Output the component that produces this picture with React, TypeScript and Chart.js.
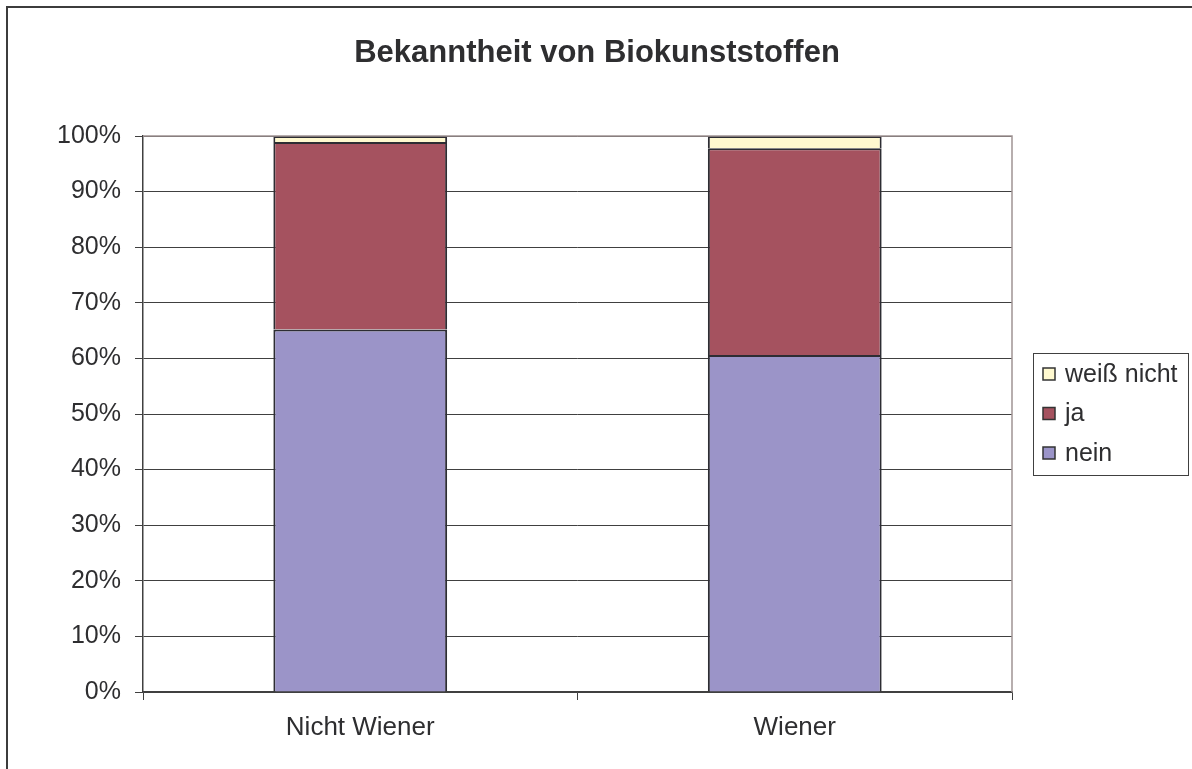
import React, { useEffect, useRef } from "react";
import { Chart, registerables } from "chart.js";

Chart.register(...registerables);

const categories = ["Nicht Wiener", "Wiener"];
const neinValues = [65.2, 60.6];
const jaValues = [33.7, 37.2];
const weissNichtValues = [1.1, 2.2];
const yTicks = [0, 10, 20, 30, 40, 50, 60, 70, 80, 90, 100];
const titleText = "Bekanntheit von Biokunststoffen";

const FONT = "'Liberation Sans', Arial, sans-serif";

const framePlugin = {
  id: "frameAndExtras",
  beforeDraw(chart: any) {
    const ctx = chart.ctx;
    ctx.save();
    ctx.fillStyle = "#ffffff";
    ctx.fillRect(0, 0, chart.width, chart.height);
    ctx.strokeStyle = "#3c3c3c";
    ctx.lineWidth = 2;
    ctx.strokeRect(7, 7, chart.width + 20, chart.height + 20);
    ctx.restore();
  },
  afterDatasetsDraw(chart: any) {
    const ctx = chart.ctx;
    const a = chart.chartArea;
    ctx.save();
    ctx.strokeStyle = "#a09494";
    ctx.lineWidth = 1.5;
    ctx.beginPath();
    ctx.moveTo(a.left, a.top);
    ctx.lineTo(a.right, a.top);
    ctx.lineTo(a.right, a.bottom);
    ctx.stroke();
    ctx.restore();
  },
  afterDraw(chart: any) {
    const ctx = chart.ctx;
    ctx.save();
    ctx.fillStyle = "#2e2e30";
    ctx.font = `bold 31px ${FONT}`;
    ctx.textAlign = "center";
    ctx.textBaseline = "middle";
    ctx.fillText(titleText, 597, 53);

    const lx = 1033, ly = 353, lw = 155, lh = 122;
    ctx.strokeStyle = "#404040";
    ctx.lineWidth = 1;
    ctx.strokeRect(lx + 0.5, ly + 0.5, lw, lh);
    const items = chart.data.datasets.map((d: any) => ({ label: d.label, color: d.backgroundColor })).reverse();
    ctx.font = `25px ${FONT}`;
    ctx.textAlign = "left";
    items.forEach((it: any, i: number) => {
      const cy = ly + 21 + i * 39.5;
      ctx.fillStyle = it.color;
      ctx.fillRect(lx + 10, cy - 6, 12, 12);
      ctx.strokeStyle = "#333";
      ctx.lineWidth = 1.5;
      ctx.strokeRect(lx + 10, cy - 6, 12, 12);
      ctx.fillStyle = "#2e2e30";
      ctx.fillText(it.label, lx + 32, cy + 1);
    });
    ctx.restore();
  },
};

export default function App() {
  const ref = useRef<HTMLCanvasElement | null>(null);
  useEffect(() => {
    if (!ref.current) return;
    const chart = new Chart(ref.current, {
      type: "bar",
      data: {
        labels: categories,
        datasets: [
          { label: "nein", data: neinValues, backgroundColor: "#9b94c8", borderColor: "#2d2d33", borderWidth: 2 },
          { label: "ja", data: jaValues, backgroundColor: "#a5525f", borderColor: "#2d2d33", borderWidth: 2 },
          { label: "weiß nicht", data: weissNichtValues, backgroundColor: "#fff9cf", borderColor: "#2d2d33", borderWidth: 2 },
        ],
      },
      options: {
        animation: false,
        responsive: false,
        devicePixelRatio: 1,
        layout: { padding: { left: 0, right: 180, top: 136, bottom: 0 } },
        datasets: { bar: { categoryPercentage: 1, barPercentage: 0.4 } },
        plugins: { legend: { display: false }, title: { display: false }, tooltip: { enabled: false } },
        scales: {
          x: {
            stacked: true,
            offset: true,
            grid: { display: true, drawOnChartArea: false, offset: true, color: "#404040", tickLength: 8 },
            border: { display: true, color: "#404040", width: 1.5 },
            ticks: { color: "#2e2e30", font: { family: FONT, size: 26 }, padding: 12 },
            afterFit: (s: any) => { s.height = 77; },
          },
          y: {
            stacked: true,
            min: 0,
            max: 100,
            afterBuildTicks: (s: any) => { s.ticks = yTicks.map((v) => ({ value: v })); },
            grid: { color: "#404040", lineWidth: 1, tickLength: 8 },
            border: { display: true, color: "#404040", width: 1.5 },
            ticks: { color: "#2e2e30", font: { family: FONT, size: 25 }, padding: 14, callback: (v: any) => `${v}%` },
            afterFit: (s: any) => { s.width = 143; },
          },
        },
      },
      plugins: [framePlugin],
    });
    return () => chart.destroy();
  }, []);
  return (
    <div style={{ position: "fixed", left: 0, top: 0, width: 1192, height: 769, overflow: "hidden" }}>
      <canvas ref={ref} width={1192} height={769} style={{ display: "block", width: 1192, height: 769 }} />
    </div>
  );
}
